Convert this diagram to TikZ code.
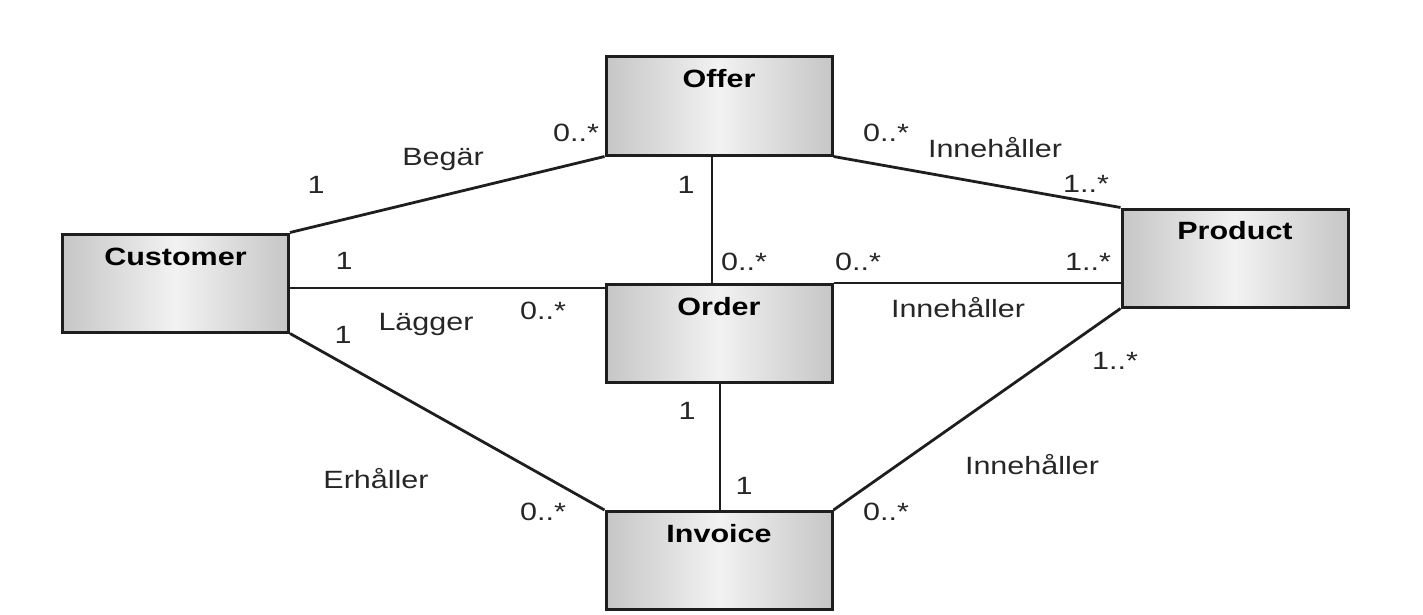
\documentclass[tikz,border=0pt]{standalone}
\usepackage{fontspec}
\setmainfont{Liberation Sans}[FakeStretch=1.22]
\definecolor{boxedge}{RGB}{198,198,198}
\definecolor{boxmid}{RGB}{242,242,242}
\definecolor{linecol}{RGB}{30,30,30}
\tikzset{
  umlbox/.style={draw=linecol, line width=3pt, minimum width=226pt, minimum height=98pt,
    left color=boxedge, right color=boxedge, middle color=boxmid, inner sep=0pt},
  title/.style={font=\fontsize{25}{30}\selectfont\bfseries, inner sep=0pt, anchor=center},
  lab/.style={font=\fontsize{25}{30}\selectfont, inner sep=0pt, anchor=center, text=black!85},
  assoc/.style={draw=linecol, line width=2.8pt}
}
\begin{document}
\begin{tikzpicture}[x=1pt,y=-1pt]
\useasboundingbox (0,0) rectangle (1423,615);
\node[umlbox] (offer) at (719,106) {};
\node[umlbox] (customer) at (175.5,283) {};
\node[umlbox] (product) at (1235,258) {};
\node[umlbox] (order) at (719,333.5) {};
\node[umlbox] (invoice) at (719,560.5) {};
\node[title] (offerT) at (719,79) {Offer};
\node[title] (customerT) at (175.5,257) {Customer};
\node[title] (productT) at (1235,231) {Product};
\node[title] (orderT) at (719,307) {Order};
\node[title] (invoiceT) at (719,534) {Invoice};
% connectors
\draw[assoc] (customer.north east) -- (offer.south west);
\draw[assoc] (offer.south east) -- (product.north west);
\draw[assoc] (offer.south -| 712,0) -- (order.north -| 712,0);
\draw[assoc] (customer.east |- 0,288) -- (order.west |- 0,288);
\draw[assoc] (order.north east) -- (product.west |- order.north);
\draw[assoc] (customer.south east) -- (invoice.north west);
\draw[assoc] (product.south west) -- (invoice.north east);
\draw[assoc] (order.south -| 720,0) -- (invoice.north -| 720,0);
% labels
\node[lab] (l1) at (443,159) {Begär};
\node[lab] (l2) at (316,185) {1};
\node[lab] (l3) at (576,133) {0..*};
\node[lab] (l4) at (886,133) {0..*};
\node[lab] (l5) at (995,148) {Innehåller};
\node[lab] (l6) at (1086,184) {1..*};
\node[lab] (l7) at (686,185) {1};
\node[lab] (l8) at (744,262) {0..*};
\node[lab] (l9) at (858,262) {0..*};
\node[lab] (l10) at (1088,262) {1..*};
\node[lab] (l11) at (344,261) {1};
\node[lab] (l12) at (543,311) {0..*};
\node[lab] (l13) at (426,324) {Lägger};
\node[lab] (l14) at (343,335) {1};
\node[lab] (l15) at (958,308) {Innehåller};
\node[lab] (l16) at (1115,361) {1..*};
\node[lab] (l17) at (687,411) {1};
\node[lab] (l18) at (744,486) {1};
\node[lab] (l19) at (376,479) {Erhåller};
\node[lab] (l20) at (543,512) {0..*};
\node[lab] (l21) at (1032,465) {Innehåller};
\node[lab] (l22) at (886,512) {0..*};
\end{tikzpicture}
\end{document}
